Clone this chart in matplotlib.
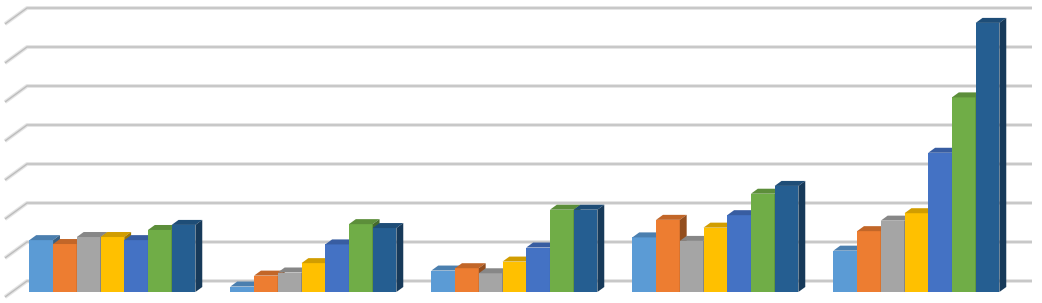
import numpy as np
import matplotlib
matplotlib.use('Agg')
import matplotlib.pyplot as plt
from matplotlib.patches import Polygon

# данные: 5 категорий, 7 рядов (единица = один шаг сетки)
categories = ['1', '2', '3', '4', '5']
s1 = [1.33, 0.14, 0.55, 1.40, 1.06]
s2 = [1.23, 0.42, 0.61, 1.85, 1.56]
s3 = [1.41, 0.50, 0.48, 1.31, 1.83]
s4 = [1.41, 0.74, 0.78, 1.65, 2.02]
s5 = [1.33, 1.22, 1.14, 1.97, 3.57]
s6 = [1.59, 1.74, 2.11, 2.52, 4.99]
s7 = [1.72, 1.64, 2.11, 2.72, 6.90]
series = [s1, s2, s3, s4, s5, s6, s7]
colors = ['#5B9BD5', '#ED7D31', '#A5A5A5', '#FFC000', '#4472C4', '#70AD47', '#255E91']
n_grid = 7

# псевдо-3D: смещение глубины в координатах данных
DX = 22 / 201   # полный сдвиг задней стенки по x
DY = 16 / 39    # полный сдвиг задней стенки по y
f0, f1 = 0.3125, 0.625  # передняя и задняя грань столбцов (доля глубины)
bar_w = 0.118


def shade(c, k):
    rgb = np.array(matplotlib.colors.to_rgb(c)) * k
    return tuple(rgb)


fig = plt.figure(figsize=(10.42, 3.03), dpi=100)
ax = fig.add_axes([0, 0, 1, 1])
ax.set_xlim(-0.5 - 5 / 201, -0.5 + 1037 / 201)
ax.set_ylim(-11 / 39, 292 / 39)
ax.axis('off')

# линии сетки: боковая стенка + задняя стенка
x_left = -0.5
x_right = len(categories) - 0.5
for k in range(n_grid + 1):
    y_front = k - DY * f0
    y_back = k + DY * (1 - f0)
    xs = [x_left, x_left + DX, x_right + DX]
    ys = [y_front, y_back, y_back]
    ax.plot(xs, ys, color='#e4e4e4', lw=2.8, solid_capstyle='butt', zorder=1)
    ax.plot(xs, ys, color='#bdbdbd', lw=1.0, solid_capstyle='butt', zorder=1.1)

# столбцы
x = np.arange(len(categories))
n = len(series)
dx_bar = DX * (f1 - f0)
dy_bar = DY * (f1 - f0)
for j, (vals, c) in enumerate(zip(series, colors)):
    left = x - n * bar_w / 2 + j * bar_w + DX * f0
    ax.bar(left, vals, width=bar_w, align='edge', color=c, zorder=3 + j)
    for xl, v in zip(left, vals):
        xr = xl + bar_w
        top = Polygon([(xl, v), (xr, v), (xr + dx_bar, v + dy_bar), (xl + dx_bar, v + dy_bar)],
                      closed=True, facecolor=shade(c, 0.82), edgecolor='none', zorder=3.5 + j)
        side = Polygon([(xr, 0), (xr + dx_bar, dy_bar), (xr + dx_bar, v + dy_bar), (xr, v)],
                       closed=True, facecolor=shade(c, 0.62), edgecolor='none', zorder=3.5 + j)
        ax.add_patch(top)
        ax.add_patch(side)

plt.savefig('out.png', dpi=100)
